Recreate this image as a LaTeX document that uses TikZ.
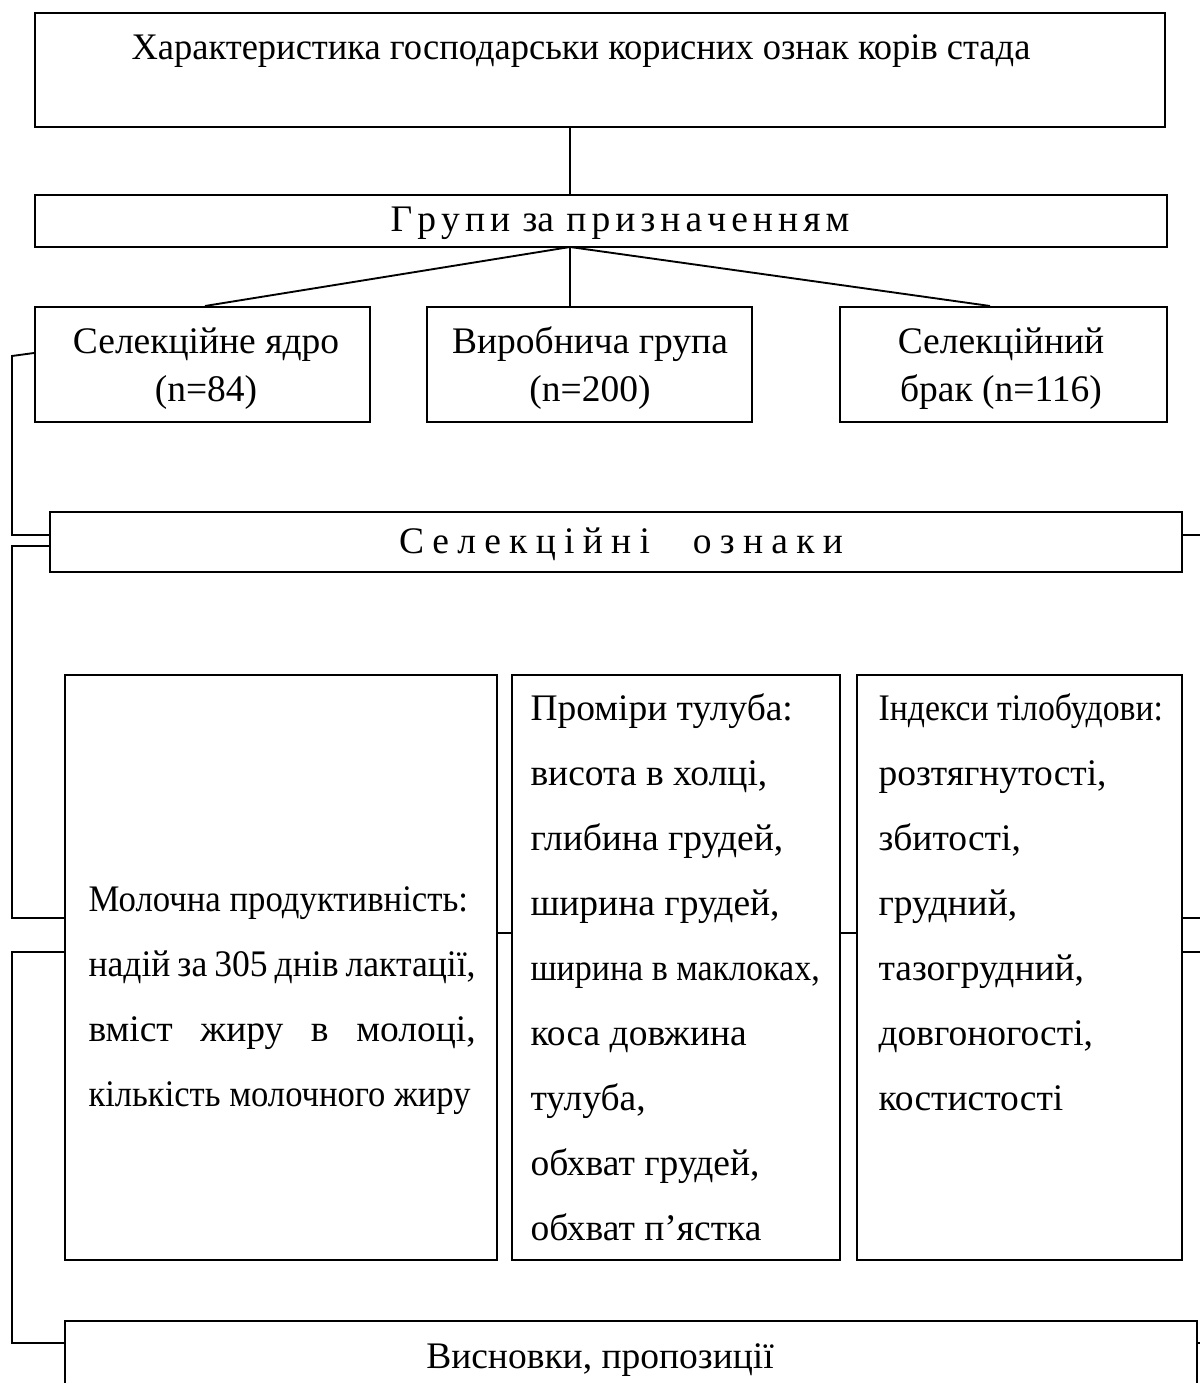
\documentclass[tikz,border=0pt]{standalone}
\usepackage{graphicx}
\usepackage{fontspec}
\setmainfont{Liberation Serif}
\usetikzlibrary{fit,calc}
\newcommand{\cond}[2]{\scalebox{#1}[1]{#2}}
\begin{document}
\begin{tikzpicture}[x=0.3733pt,y=-0.3733pt,
  box/.style={draw,line width=0.75pt,inner sep=0pt},
  wire/.style={line width=0.7pt},
  thinwire/.style={line width=0.45pt},
  txt/.style={inner sep=0pt,font=\fontsize{14}{16}\selectfont},
  ctxt/.style={inner sep=0pt,font=\fontsize{14}{17.9}\selectfont,align=center,anchor=north},
  para/.style={inner sep=0pt,font=\fontsize{14}{24.27}\selectfont,align=left,anchor=north west},
  ]
\clip (0,0) rectangle (1200,1383);
% boxes
\node[box,fit={(35,13)(1165,127)}] (top) {};
\node[box,fit={(35,195)(1167,247)}] (groups) {};
\node[box,fit={(35,307)(370,422)}] (sel1) {};
\node[box,fit={(427,307)(752,422)}] (sel2) {};
\node[box,fit={(840,307)(1167,422)}] (sel3) {};
\node[box,fit={(50,512)(1182,572)}] (signs) {};
\node[box,fit={(65,675)(497,1260)}] (milk) {};
\node[box,fit={(512,675)(840,1260)}] (body) {};
\node[box,fit={(857,675)(1182,1260)}] (index) {};
\node[box,fit={(65,1321)(1197,1400)}] (concl) {};
% texts
\node[txt,anchor=base] (ttop) at (581,60) {\cond{0.973}{Характеристика господарськи корисних ознак корів стада}};
\node[txt,anchor=base] (tgroups) at (620,232) {\spaceskip=1.9pt Г р у п и\hspace{4.6pt}за\hspace{4.6pt}п р и з н а ч е н н я м};
\node[ctxt] (tsel1) at (206,323.5) {\rule{0pt}{11pt}Селекційне ядро\\(n=84)};
\node[ctxt] (tsel2) at (590,323.5) {\rule{0pt}{11pt}Виробнича група\\(n=200)};
\node[ctxt] (tsel3) at (1001,323.5) {\rule{0pt}{11pt}Селекційний\\брак (n=116)};
\node[txt,anchor=base] (tsigns) at (621,553) {\spaceskip=3.1pt С е л е к ц і й н і\hspace{16pt}о з н а к и};
\node[para] (tmilk) at (88,881.5) {\rule{0pt}{11pt}\cond{0.927}{Молочна продуктивність:}\\
\cond{0.95}{\makebox[152.1pt][s]{надій за 305 днів лактації,}}\\
\makebox[144.5pt][s]{вміст жиру в молоці,}\\
\cond{0.922}{кількість молочного жиру}};
\node[para] (tbody) at (530,690.5) {\rule{0pt}{11pt}Проміри тулуба:\\висота в холці,\\глибина грудей,\\ширина грудей,\\\cond{0.906}{ширина в маклоках,}\\коса довжина\\тулуба,\\обхват грудей,\\обхват п’ястка};
\node[para] (tindex) at (878,690.5) {\rule{0pt}{11pt}\cond{0.9}{Індекси тілобудови:}\\розтягнутості,\\збитості,\\грудний,\\тазогрудний,\\довгоногості,\\костистості};
\node[txt,anchor=base] (tconcl) at (600,1368) {Висновки, пропозиції};
% connectors
\coordinate (hub) at (570,247);
\draw[thinwire] (hub |- top.south) -- (hub |- groups.north);
\draw[wire] (hub) -- (205,0 |- sel1.north);
\draw[thinwire] (hub) -- (hub |- sel2.north);
\draw[wire] (hub) -- (990,0 |- sel3.north);
\draw[wire] (sel1.west |- 0,353) -- (12,356) -- (12,535) -- (signs.west |- 0,535);
\draw[wire] (signs.west |- 0,546) -- (12,546) -- (12,918) -- (milk.west |- 0,918);
\draw[wire] (milk.west |- 0,952) -- (12,952) -- (12,1343) -- (concl.west |- 0,1343);
\draw[wire] (milk.east |- 0,933) -- (body.west |- 0,933);
\draw[wire] (body.east |- 0,933) -- (index.west |- 0,933);
\coordinate (redge) at (1200,0);
\draw[wire] (signs.east |- 0,535) -- (redge |- 0,535);
\draw[wire] (index.east |- 0,918) -- (redge |- 0,918);
\draw[wire] (index.east |- 0,952) -- (redge |- 0,952);
\draw[wire] (concl.east |- 0,1343) -- (redge |- 0,1343);
\end{tikzpicture}
\end{document}
